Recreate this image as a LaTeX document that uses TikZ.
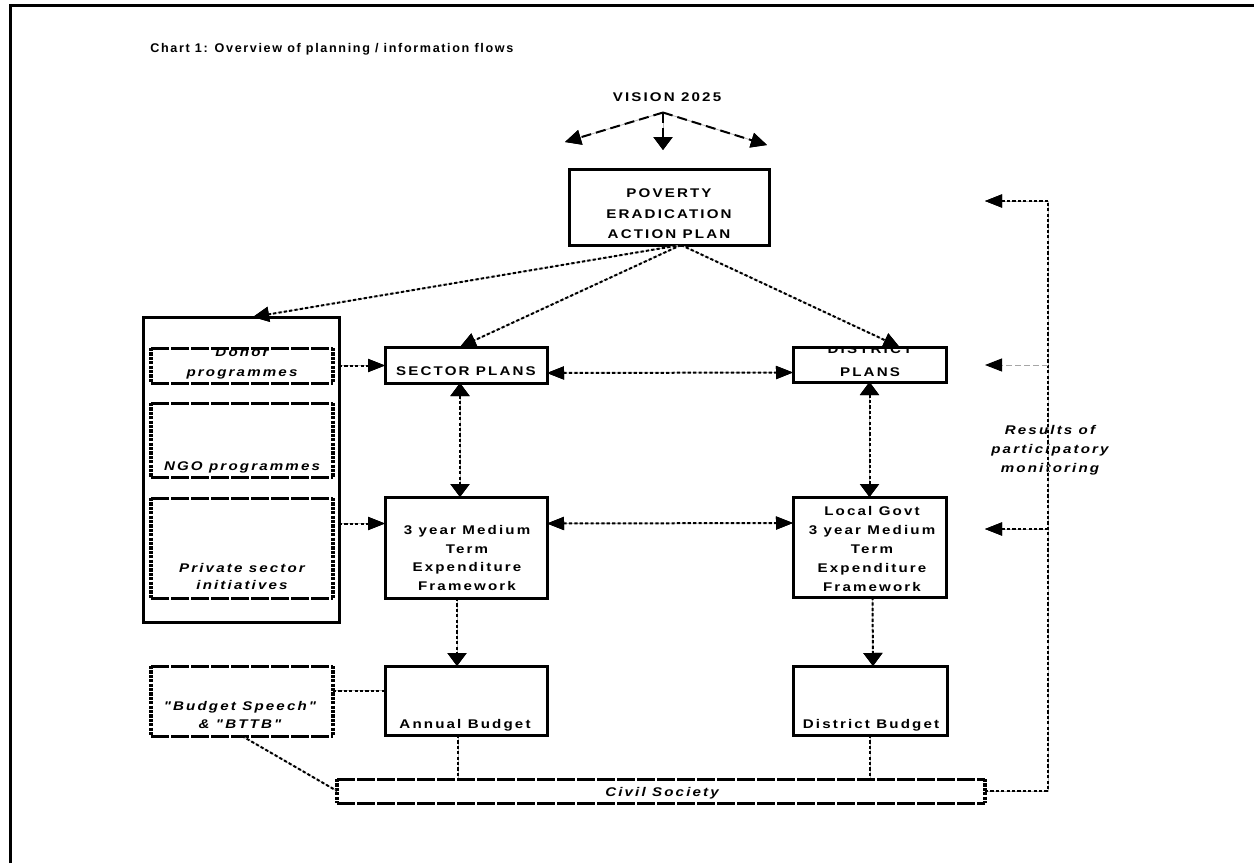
\documentclass[tikz,border=0pt]{standalone}
\usepackage{fontspec}
\setmainfont{Liberation Sans}
\newfontfamily\boxfont[FakeStretch=1.2,LetterSpace=17]{Liberation Sans}
\newfontfamily\titlefont[LetterSpace=13]{Liberation Sans}
\usetikzlibrary{arrows.meta,calc}
\newcommand\dashedframe[1]{%
  \draw[hdash] (#1.north west) -- (#1.north east) (#1.south west) -- (#1.south east);
  \draw[vdash] (#1.north west) -- (#1.south west) (#1.north east) -- (#1.south east);}
\begin{document}
\begin{tikzpicture}[x=0.5pt,y=-0.5pt,
  vtip/.style={-{Triangle[length=6.5pt,width=9.5pt,color=black]}},
  htip/.style={-{Triangle[length=8.5pt,width=6.5pt,color=black]}},
  vboth/.style={{Triangle[length=6.5pt,width=9.5pt,color=black]}-{Triangle[length=6.5pt,width=9.5pt,color=black]}},
  hboth/.style={{Triangle[length=8.5pt,width=6.5pt,color=black]}-{Triangle[length=8.5pt,width=6.5pt,color=black]}},
  dtip/.style={-{Triangle[length=8pt,width=7.5pt,color=black]}},
  solidbox/.style={draw,line width=1.5pt,inner sep=0pt,outer sep=0pt},
  dashbox/.style={inner sep=0pt,outer sep=0pt},
  hdash/.style={line width=1.5pt,dash pattern=on 9pt off 1pt},
  vdash/.style={line width=1.6pt,dash pattern=on 1.6pt off 0.6pt},
  txt/.style={inner sep=0pt,align=center,font=\boxfont\bfseries\fontsize{6.3}{9.5}\selectfont},
  itxt/.style={inner sep=0pt,align=center,font=\boxfont\bfseries\itshape\fontsize{6.3}{9.5}\selectfont},
  flow/.style={line width=1pt,dash pattern=on 1.6pt off 1.1pt,preaction={draw=gray!55,line width=0.4pt,solid}},
  thinflow/.style={line width=0.5pt,draw=gray!70,dash pattern=on 3pt off 1.5pt},
  visarr/.style={line width=1pt,dash pattern=on 5pt off 2.5pt,preaction={draw=gray!55,line width=0.4pt,solid}}
]
\useasboundingbox (0,0) rectangle (1254,863);
% frame
\draw[line width=1.7pt] (10.5,863) -- (10.5,5.5) -- (1254,5.5);
% title
\node[inner sep=0pt,anchor=base west,font=\titlefont\bfseries\fontsize{6.3}{9.5}\selectfont] (title) at (150,52) {Chart 1: Overview of planning / information flows};
% vision
\node[txt,anchor=base] (vision) at (667,101.5) {VISION 2025};
\coordinate (apex) at ([xshift=-2pt,yshift=-5.25pt]vision.south);
\coordinate (vl) at (565,142);
\coordinate (vd) at (663,150);
\coordinate (vr) at (767,145);
\draw[visarr,dtip] (apex) -- (vl);
\draw[visarr,vtip] (apex) -- (vd);
\draw[visarr,dtip] (apex) -- (vr);
% boxes
\node[solidbox,minimum width=100pt,minimum height=38pt] (peap) at (669,207) {};
\node[solidbox,minimum width=98pt,minimum height=152.5pt] (big) at (241,469.5) {};
\node[dashbox,minimum width=91pt,minimum height=17.5pt] (donor) at (242,365.5) {};
\node[dashbox,minimum width=91pt,minimum height=37pt] (ngo) at (242,440) {};
\node[dashbox,minimum width=91pt,minimum height=50pt] (priv) at (242,548) {};
\node[solidbox,minimum width=81pt,minimum height=18pt] (sector) at (466,365) {};
\node[solidbox,minimum width=76.5pt,minimum height=17.5pt] (district) at (869.5,364.5) {};
\node[solidbox,minimum width=81pt,minimum height=50.5pt] (mtef) at (466,547.5) {};
\node[solidbox,minimum width=76.5pt,minimum height=50pt] (lmtef) at (869.5,547) {};
\node[solidbox,minimum width=81pt,minimum height=34.5pt] (annual) at (466,700.5) {};
\node[solidbox,minimum width=77pt,minimum height=34.5pt] (dbudget) at (870,700.5) {};
\node[dashbox,minimum width=91pt,minimum height=35pt] (speech) at (242,701) {};
\node[dashbox,minimum width=324pt,minimum height=12pt] (civil) at (661,791) {};
\dashedframe{donor}
\dashedframe{ngo}
\dashedframe{priv}
\dashedframe{speech}
\dashedframe{civil}
% texts
\node[txt,anchor=north,font=\boxfont\bfseries\fontsize{6.3}{10.25}\selectfont] (peapt) at (669,188.5) {POVERTY\\ERADICATION\\ACTION PLAN};
\node[txt,anchor=base] (sectort) at (466,375.5) {SECTOR PLANS};
\begin{scope}
\clip (district.north west) rectangle (district.south east);
\node[txt,anchor=north,font=\boxfont\bfseries\fontsize{6.3}{11.5}\selectfont] (districtt) at (870,344) {DISTRICT\\PLANS};
\end{scope}
\begin{scope}
\clip (donor.north west) rectangle (donor.south east);
\node[itxt,anchor=north,font=\boxfont\bfseries\itshape\fontsize{6.3}{10}\selectfont] (donort) at (242,347) {Donor\\programmes};
\end{scope}
\node[itxt,anchor=base] (ngot) at (242,470) {NGO programmes};
\node[itxt,anchor=north,font=\boxfont\bfseries\itshape\fontsize{6.3}{8.5}\selectfont] (privt) at (242,563) {Private sector\\initiatives};
\node[txt,anchor=north,font=\boxfont\bfseries\fontsize{6.3}{9.33}\selectfont] (meftt) at (467,525) {3 year Medium\\Term\\Expenditure\\Framework};
\node[txt,anchor=north] (lmteft) at (872,506) {Local Govt\\3 year Medium\\Term\\Expenditure\\Framework};
\node[txt,anchor=base] (annualt) at (465,728) {Annual Budget};
\node[txt,anchor=base] (dbudgett) at (871,728) {District Budget};
\node[itxt,anchor=north,font=\boxfont\bfseries\itshape\fontsize{6.3}{9}\selectfont] (speecht) at (240,701) {"Budget Speech"\\\& "BTTB"};
\node[itxt,anchor=base] (civilt) at (662,796) {Civil Society};
\node[itxt,anchor=north] (results) at (1050,425) {Results of\\participatory\\monitoring};
% connectors
\draw[flow,dtip] ([xshift=6pt]peap.south) -- ([xshift=6pt]big.north);
\draw[flow,dtip] ([xshift=6pt]peap.south) -- ([xshift=-3pt]sector.north);
\draw[flow,dtip] ([xshift=6pt]peap.south) -- ([xshift=15pt]district.north);
\draw[flow,htip] (big.east |- donor.east) -- (sector.west |- donor.east);
\coordinate (m1) at ($(mtef.west)+(0,-24)$);
\draw[flow,htip] (big.east |- m1) -- (m1);
\draw[flow,hboth] ($(sector.east)+(0,8)$) -- ($(district.west)+(0,8)$);
\draw[flow,hboth] ($(mtef.east)+(0,-24)$) -- ($(lmtef.west)+(0,-24)$);
\draw[flow,vboth] ($(sector.south)+(-6,0)$) -- ($(mtef.north)+(-6,0)$);
\draw[flow,vboth] (district.south) -- (lmtef.north);
\draw[flow,vtip] ($(mtef.south)+(-9,0)$) -- ($(annual.north)+(-9,0)$);
\draw[flow,vtip] ($(lmtef.south)+(3,0)$) -- ($(dbudget.north)+(3,0)$);
\coordinate (a1) at ($(annual.west)+(0,-10)$);
\draw[flow] (speech.east |- a1) -- (a1);
\draw[flow] (speech.south) -- (civil.west);
\coordinate (a2) at ($(annual.south)+(-8,0)$);
\draw[flow] (a2) -- (a2 |- civil.north);
\draw[flow] (dbudget.south) -- (dbudget.south |- civil.north);
% feedback loop
\coordinate (fbtop) at (1048,201);
\coordinate (r1) at (985,201);
\coordinate (r2) at (985,365);
\coordinate (r3) at (985,529);
\draw[flow] (civil.east) -- (civil.east -| fbtop) -- (fbtop);
\draw[flow,htip] (fbtop) -- (r1);
\draw[thinflow,htip] (fbtop |- r2) -- (r2);
\draw[flow,htip] (fbtop |- r3) -- (r3);
\end{tikzpicture}
\end{document}
